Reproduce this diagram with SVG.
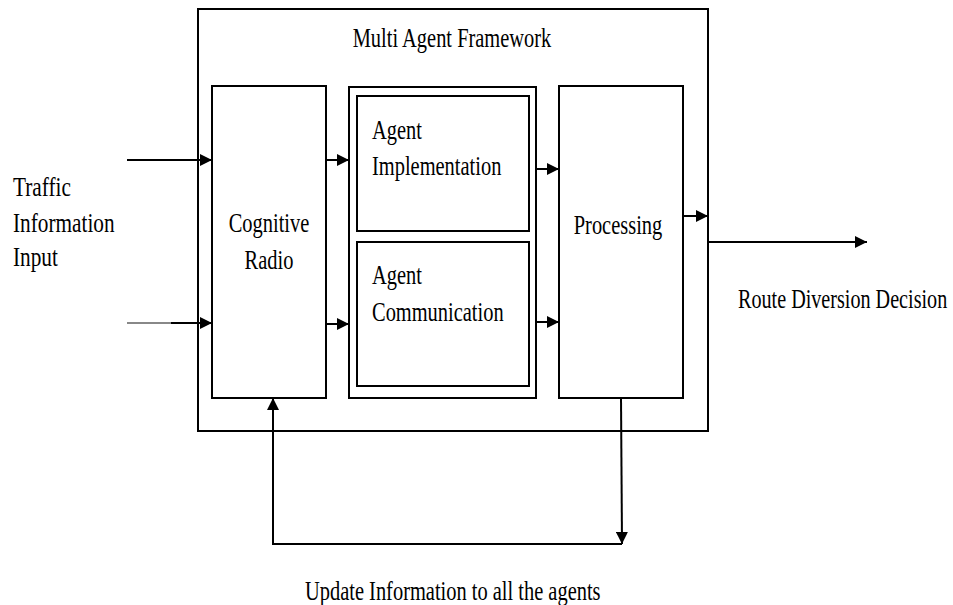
<svg xmlns="http://www.w3.org/2000/svg" width="953" height="605" viewBox="0 0 953 605">
  <style>
    .box { fill: #fff; stroke: #000; stroke-width: 2; }
    .line { fill: none; stroke: #000; stroke-width: 2; }
    .lbl { font-family: "Liberation Serif", "Times New Roman", serif; font-size: 28px; fill: #000; }
  </style>
  <defs>
    <marker id="arrow" viewBox="0 0 10 10" refX="10" refY="5" markerWidth="12" markerHeight="12" markerUnits="userSpaceOnUse" orient="auto">
      <path d="M0,0 L10,5 L0,10 z" fill="#000"/>
    </marker>
  </defs>
  <rect width="953" height="605" fill="#fff"/>

  <g id="framework">
    <rect class="box" x="198" y="9" width="510" height="422"/>
    <text class="lbl" transform="translate(452,47) scale(0.73,1)" text-anchor="middle">Multi Agent Framework</text>
  </g>

  <g id="cognitive-radio">
    <rect class="box" x="212" y="86" width="114" height="312"/>
    <text class="lbl" transform="translate(269,232) scale(0.73,1)" text-anchor="middle">Cognitive</text>
    <text class="lbl" transform="translate(269,269) scale(0.73,1)" text-anchor="middle">Radio</text>
  </g>

  <g id="agent-block">
    <rect class="box" x="349" y="87" width="187" height="311"/>
  </g>

  <g id="agent-implementation">
    <rect class="box" x="357" y="96" width="172" height="135"/>
    <text class="lbl" transform="translate(372,139) scale(0.73,1)">Agent</text>
    <text class="lbl" transform="translate(372,175) scale(0.73,1)">Implementation</text>
  </g>

  <g id="agent-communication">
    <rect class="box" x="357" y="242" width="172" height="144"/>
    <text class="lbl" transform="translate(372,284) scale(0.73,1)">Agent</text>
    <text class="lbl" transform="translate(372,321) scale(0.73,1)">Communication</text>
  </g>

  <g id="processing">
    <rect class="box" x="559" y="86" width="124" height="312"/>
    <text class="lbl" transform="translate(618,234) scale(0.73,1)" text-anchor="middle">Processing</text>
  </g>

  <g id="traffic-input">
    <text class="lbl" transform="translate(13,196) scale(0.76,1)">Traffic</text>
    <text class="lbl" transform="translate(13,232) scale(0.76,1)">Information</text>
    <text class="lbl" transform="translate(13,266) scale(0.76,1)">Input</text>
  </g>

  <g id="route-decision">
    <text class="lbl" transform="translate(738,308) scale(0.72,1)">Route Diversion Decision</text>
  </g>

  <g id="update-label">
    <text class="lbl" transform="translate(305,600) scale(0.73,1)">Update Information to all the agents</text>
  </g>

  <g id="connectors">
    <line class="line" x1="127" y1="160" x2="212" y2="160" marker-end="url(#arrow)"/>
    <line x1="127" y1="323" x2="172" y2="323" stroke="#888" stroke-width="2"/>
    <line class="line" x1="171" y1="323" x2="212" y2="323" marker-end="url(#arrow)"/>
    <line class="line" x1="326" y1="160" x2="349" y2="160" marker-end="url(#arrow)"/>
    <line class="line" x1="326" y1="324" x2="349" y2="324" marker-end="url(#arrow)"/>
    <line class="line" x1="536" y1="169" x2="559" y2="169" marker-end="url(#arrow)"/>
    <line class="line" x1="536" y1="322" x2="559" y2="322" marker-end="url(#arrow)"/>
    <line class="line" x1="683" y1="216" x2="708" y2="216" marker-end="url(#arrow)"/>
    <line class="line" x1="708" y1="242" x2="867" y2="242" marker-end="url(#arrow)"/>
    <line class="line" x1="621" y1="398" x2="622" y2="544" marker-end="url(#arrow)"/>
    <polyline class="line" points="622,544 273,544 273,398" marker-end="url(#arrow)"/>
  </g>
</svg>
